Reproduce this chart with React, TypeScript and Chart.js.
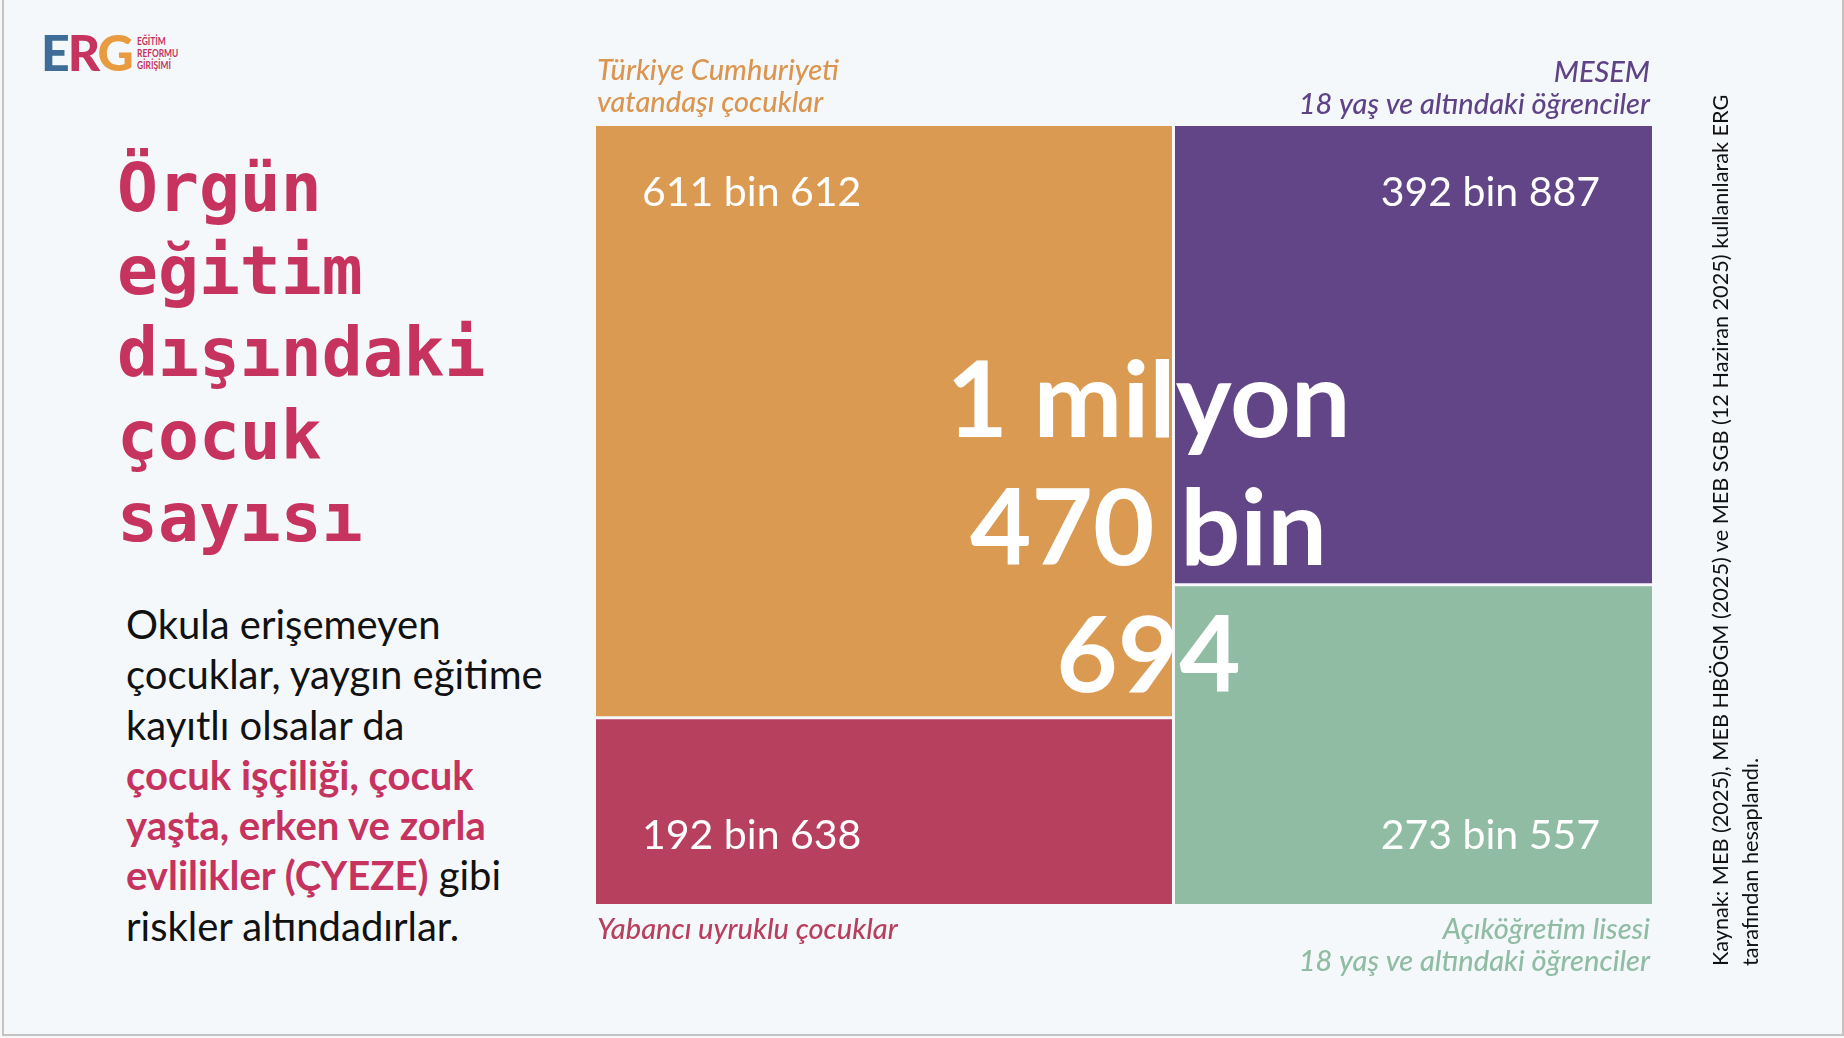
import React, { useEffect, useRef } from "react";
import { Chart, registerables } from "chart.js";

Chart.register(...registerables);

// ---- data ----
const categoryLines: string[][] = [
  ["Türkiye Cumhuriyeti", "vatandaşı çocuklar"],
  ["Yabancı uyruklu çocuklar"],
  ["MESEM", "18 yaş ve altındaki öğrenciler"],
  ["Açıköğretim lisesi", "18 yaş ve altındaki öğrenciler"],
];
const values = [611612, 192638, 392887, 273557];
const valueLabels = ["611 bin 612", "192 bin 638", "392 bin 887", "273 bin 557"];
const columnOf = [0, 0, 1, 1];
const rowOf = [0, 1, 0, 1]; // 0 = top of column, 1 = bottom
const totalLines = ["1 milyon", "470 bin", "694"];

// ---- styles ----
const fillColors = ["#DB9A52", "#B7405F", "#614586", "#90BCA4"];
const labelColors = ["#DA9650", "#B7405F", "#5F4386", "#8FBCA3"];
const GAP_COLOR = "#F6F8FB";

function buildRects() {
  const colTotals = [0, 0];
  values.forEach((v, i) => (colTotals[columnOf[i]] += v));
  const colStart = [0, colTotals[0]];
  const rects = values.map((v, i) => {
    const c = columnOf[i];
    const share = v / colTotals[c];
    const x0 = colStart[c];
    const x1 = colStart[c] + colTotals[c];
    const y0 = rowOf[i] === 0 ? 1 - share : 0;
    const y1 = rowOf[i] === 0 ? 1 : share;
    return { x0, x1, y0, y1 };
  });
  return { rects, colTotals, total: colTotals[0] + colTotals[1] };
}

const labelPlugin = {
  id: "treemapLabels",
  afterDatasetsDraw(chart: any) {
    const { ctx, chartArea } = chart;
    const xs = chart.scales.x;
    const ys = chart.scales.y;
    const { rects, colTotals } = buildRects();
    ctx.save();
    ctx.textBaseline = "alphabetic";
    rects.forEach((r, i) => {
      const left = xs.getPixelForValue(r.x0);
      const right = xs.getPixelForValue(r.x1);
      const top = ys.getPixelForValue(r.y1);
      const bottom = ys.getPixelForValue(r.y0);
      const alignLeft = columnOf[i] === 0;
      const isTop = rowOf[i] === 0;
      // value label inside
      ctx.fillStyle = "#FFFFFF";
      ctx.font = "41px Lato";
      ctx.textAlign = alignLeft ? "left" : "right";
      const vx = alignLeft ? left + 46 : right - 52;
      const vy = isTop ? top + 80 : bottom - 55;
      ctx.fillText(valueLabels[i], vx, vy);
      // category label outside
      ctx.fillStyle = labelColors[i];
      ctx.font = "italic 500 29px Lato";
      const cx = alignLeft ? left + 1 : right - 2;
      const lines = categoryLines[i];
      lines.forEach((ln, k) => {
        let cy;
        if (isTop) cy = top - (alignLeft ? 14 : 12) - (lines.length - 1 - k) * 32;
        else cy = bottom + 35 + k * 32;
        ctx.fillText(ln, cx, cy);
      });
    });
    // total in the middle
    const midX = xs.getPixelForValue(colTotals[0]) - 25;
    const midY = (chartArea.top + chartArea.bottom) / 2;
    ctx.fillStyle = "#FFFFFF";
    ctx.font = "bold 106px Lato";
    ctx.textAlign = "center";
    totalLines.forEach((ln, k) => {
      ctx.fillText(ln, midX, midY - 78 + k * 127.5);
    });
    ctx.restore();
  },
};

function TreemapChart() {
  const ref = useRef<HTMLCanvasElement | null>(null);
  useEffect(() => {
    if (!ref.current) return;
    const { rects, colTotals, total } = buildRects();
    const rectSets = rects.map((r, i) => ({
      label: categoryLines[i].join(" "),
      data: [
        { x: r.x0, y: r.y1 },
        { x: r.x1, y: r.y1 },
      ],
      fill: { value: r.y0 },
      backgroundColor: fillColors[i],
      borderColor: "rgba(0,0,0,0)",
      borderWidth: 0,
      pointRadius: 0,
      order: 1,
    }));
    const splitLeft = rects[1].y1;
    const splitRight = rects[3].y1;
    const sepStyle = {
      fill: false,
      borderColor: GAP_COLOR,
      borderWidth: 3,
      pointRadius: 0,
      order: 0,
    };
    const separators = [
      { label: "sep-v", data: [{ x: colTotals[0], y: 0 }, { x: colTotals[0], y: 1 }], ...sepStyle },
      { label: "sep-l", data: [{ x: 0, y: splitLeft }, { x: colTotals[0], y: splitLeft }], ...sepStyle },
      { label: "sep-r", data: [{ x: colTotals[0], y: splitRight }, { x: total, y: splitRight }], ...sepStyle },
    ];
    const chart = new Chart(ref.current, {
      type: "line",
      data: { datasets: [...rectSets, ...separators] as any },
      options: {
        responsive: false,
        animation: false,
        devicePixelRatio: 1,
        events: [],
        layout: { padding: { left: 596, right: 192, top: 126, bottom: 134 } },
        scales: {
          x: { type: "linear", display: false, min: 0, max: total },
          y: { type: "linear", display: false, min: 0, max: 1 },
        },
        plugins: { legend: { display: false }, tooltip: { enabled: false } },
      },
      plugins: [labelPlugin],
    } as any);
    return () => chart.destroy();
  }, []);
  return (
    <canvas
      ref={ref}
      width={1844}
      height={1038}
      style={{ position: "absolute", left: 0, top: 0, width: 1844, height: 1038 }}
    />
  );
}

const RED = "#C6335E";

export default function App() {
  return (
    <div
      style={{
        position: "fixed",
        left: 0,
        top: 0,
        width: 1844,
        height: 1038,
        background: "#F7F7F7",
        overflow: "hidden",
      }}
    >
      <div
        style={{
          position: "absolute",
          left: 2,
          top: 0,
          width: 1842,
          height: 1036,
          boxSizing: "border-box",
          borderLeft: "2px solid #C3C3C3",
          borderRight: "2px solid #C3C3C3",
          borderBottom: "2px solid #C3C3C3",
          background: "#F4F8FB",
        }}
      />
      {/* logo */}
      <div
        style={{
          position: "absolute",
          left: 41,
          top: 27,
          font: "900 50px Lato",
          lineHeight: "50px",
          letterSpacing: -2,
          whiteSpace: "nowrap",
        }}
      >
        <span style={{ color: "#3E6E98" }}>E</span>
        <span style={{ color: "#C6335E" }}>R</span>
        <span style={{ color: "#E89B40" }}>G</span>
      </div>
      <div
        style={{
          position: "absolute",
          left: 137,
          top: 35,
          font: "bold 12px Lato",
          lineHeight: "12px",
          color: RED,
          whiteSpace: "nowrap",
          transform: "scaleX(0.7)",
          transformOrigin: "0 0",
        }}
      >
        EĞİTİM
        <br />
        REFORMU
        <br />
        GİRİŞİMİ
      </div>
      {/* title */}
      <div
        style={{
          position: "absolute",
          left: 117,
          top: 147,
          font: "bold 68px 'DejaVu Sans Mono'",
          lineHeight: "82.5px",
          color: RED,
          whiteSpace: "nowrap",
        }}
      >
        Örgün
        <br />
        eğitim
        <br />
        dışındaki
        <br />
        çocuk
        <br />
        sayısı
      </div>
      {/* body */}
      <div
        style={{
          position: "absolute",
          left: 126,
          top: 599,
          font: "40px Lato",
          lineHeight: "50.3px",
          color: "#111111",
          whiteSpace: "nowrap",
        }}
      >
        Okula erişemeyen
        <br />
        çocuklar, yaygın eğitime
        <br />
        kayıtlı olsalar da
        <br />
        <span style={{ color: RED, fontWeight: 700 }}>
          çocuk işçiliği, çocuk
          <br />
          yaşta, erken ve zorla
          <br />
          evlilikler (ÇYEZE)
        </span>{" "}
        gibi
        <br />
        riskler altındadırlar.
      </div>
      <TreemapChart />
      {/* source */}
      <div
        style={{
          position: "absolute",
          left: 1705,
          top: 966,
          transformOrigin: "0 0",
          transform: "rotate(-90deg) scaleX(0.985)",
          font: "22px Lato",
          lineHeight: "30px",
          color: "#111111",
          whiteSpace: "nowrap",
        }}
      >
        Kaynak: MEB (2025), MEB HBÖGM (2025) ve MEB SGB (12 Haziran 2025) kullanılarak ERG
        <br />
        tarafından hesaplandı.
      </div>
    </div>
  );
}
